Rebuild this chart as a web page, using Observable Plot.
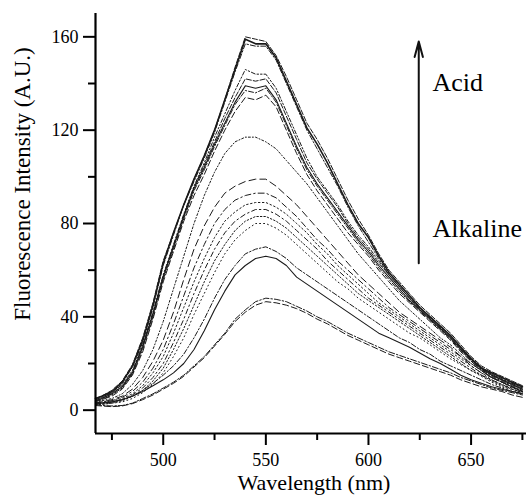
<!DOCTYPE html>
<html>
<head>
<meta charset="utf-8">
<script src="https://cdn.jsdelivr.net/npm/d3@7"></script>
<script src="https://cdn.jsdelivr.net/npm/@observablehq/plot@0.6"></script>
<style>
  html, body { margin: 0; padding: 0; background: #fff; }
  #chart { width: 526px; height: 496px; }
  #chart svg, #chart svg text { font-family: "Liberation Serif", "Times New Roman", Times, Tinos, "DejaVu Serif", "Noto Serif", FreeSerif, serif !important; }
</style>
</head>
<body>
<div id="chart"></div>
<script>
// ---- data ----
const wavelengths = [467,470,475,480,485,490,495,500,505,510,515,520,525,530,535,540,545,550,555,560,565,570,575,580,585,590,595,600,605,610,615,620,625,630,635,640,645,650,655,660,665,670,675];

const c1  = [5,6,8,12,19,30,45,63,76,88,99,109,120,133,146,159,157,157,151,141,131,121,114,106,97,88,80,74,66,59,54,49,44,40,36,32,27,22,18,16,14,12,10];
const c2  = [5,6,8.5,12.5,19.5,31,46,64,76,88,99,109,120,133,147,160,159,158,152,143,133,123,116,108,99,90,82,75,67,60,55,50,45,41,37,33,28,23,19,16.5,14.5,12.5,10.5];
const c3  = [4.5,5.5,7.5,11.5,18.5,29,44,62,75,88,98,108,119,132,145,157,156,156,150,140,130,120,112,104,96,87,79,72,65,58,53,48,43,39,35,31,26,21,17.5,15,13,11.5,9.5];
const c4  = [4.5,5.5,7.5,11,17,28,42,58,71,84,96,106,117,127,137,146,144,144,138,128,118,108,100,94,88,81,75,70,64,58,53,48,44,40,36,32,27,22.5,18.5,15.5,13.5,11.5,9.5];
const c5  = [4,5,7,10.5,16.5,27.5,41.5,57.5,70.5,83.5,95.5,105,115,125,134,142,141,142,136,126,116,106,99,93,87,80,74,69,63,58,53,48,43.5,39.5,35.5,31.5,26.5,22,18,15.5,13,11,9];
const c6  = [4,5,7,10,16,27,41,57,70,83,95,104,114,123,132,139,138,139,133,123,113,104,97,91,85,79,73,68,62,57,52,47,43,39,35,31,26,22,18,15,13,11,9];
const c7  = [4,4.5,6.5,9.5,15.5,26,40,56,69,82,94,103,113,122,131,137,136,138,132,122,112,103,96,90,84,78,72,67,61,56,51,46.5,42.5,38.5,34.5,30.5,25.5,21.5,17.5,14.5,12.5,10.5,8.5];
const c8  = [3.5,4.5,6,9,15,25,39,55,68,81,92,101,111,120,128,134,133,135,130,120,110,101,94,88,82,76,71,66,60,55,50,46,42,38,34,30,25,21,17,14,12,10,8];
const c9  = [3,4,5,7,11,17,26,38,52,66,80,92,102,110,115,117,117,115,112,107,102,97,91,85,79,73,67,62,57,52,47,43,39,35,31,28,24,20,17,14,12,10,8];
const c10 = [3,3.5,4.5,6,9,14,21,30,42,56,69,79,87,93,96,98,99,99,96,92,88,83,78,73,68,63,58,54,50,46,42,39,36,33,30,27,23,20,17,14,12,10,8];
const c11 = [3,3.5,4,5.5,8,12,18,26,37,49,61,71,80,86,90,92,93,93,91,87,83,78,73,69,64,60,56,52,48,44,41,38,35,32,29,26,23,19,16,14,12,10,8];
const c12 = [2.5,3,4,5,7,10.5,16,23,33,44,55,65,74,81,85,88,89,89,87,84,80,76,71,67,62,58,54,50,46,43,40,37,34,31,28,25,22,19,16,13,11,9.5,8];
const c13 = [2.5,3,3.5,4.5,6.5,9.5,14,20,29,39,50,60,69,76,81,84,86,86,84,81,77,73,69,64,60,56,52,48,45,42,39,36,33,30,27,24,21,18,15,13,11,9,7.5];
const c14 = [2.5,2.5,3,4,6,8.5,12.5,18,26,35,45,55,64,71,77,81,83,83,81,78,74,70,66,62,58,54,50,47,44,41,38,35,32,29,26,23,20,17,15,12.5,10.5,9,7.5];
const c15 = [2,2.5,3,3.5,5,7.5,11,16,23,31,41,50,59,67,73,77,80,80,78,75,71,67,63,59,55,52,48,45,42,39,36,33,31,28,25,22,19.5,17,14.5,12,10,8.5,7];
const c16 = [3,3,3.5,4.5,6,8.5,11.5,15,19,24,31,39,48,56,62,67,69,70,68,65,61,58,55,52,49,46,43,40,37,34,31,29,26,24,21,19,17,15,13,11,9.5,8,7];
const c17 = [3,3,3.5,4.5,6,8,10.5,13,16,20,26,34,43,51,58,62,65,66,65,62,57,54,51,48,45,42,39,36,33,31,29,27,24.5,22,20,17.5,15,13,11.5,10,9,8,7];
const c18 = [2.5,2,1.8,2,3,5,7,9.5,12,15,19,23,28,33,39,43,46.5,48,47.5,46.5,44.5,42.5,40,38,35.5,33,31,29,27,25,23.5,22,20.5,19,17.5,16,14,12.5,11,9.5,8.5,7.5,6.5];
const c19 = [2,1.8,1.5,1.8,2.8,4.5,6.5,9,11.5,14.5,18.5,22.5,27.5,32.5,38,42,45,46.5,46,45,43.5,41.5,39,37,34.5,32,30,28,26,24,22.5,21,19.5,18,16.5,15,13,11.5,10,9,8,6.5,5.5];

const seriesValues = [c1,c2,c3,c4,c5,c6,c7,c8,c9,c10,c11,c12,c13,c14,c15,c16,c17,c18,c19];

// axis ticks / domains
const xDomain = [467, 677];
const yDomain = [-10, 170];
const xMajorTicks = [500, 550, 600, 650];
const xMinorTicks = [475, 525, 575, 625, 675];
const yMajorTicks = [0, 40, 80, 120, 160];
const yMinorTicks = [20, 60, 100, 140];

// annotation
const arrowData = [{x: 624.5, from: 63, to: 158}];
const labelData = [{x: 631.2, y: 140.2, text: "Acid"}, {x: 631.2, y: 77.6, text: "Alkaline"}];

// ---- styles (kept separate from data) ----
const dashStyles = [
  null, "5,2", "5,2,1.5,2", "4,2,1.5,2,1.5,2", "5,2", null, "5,2,1.5,2", "6,3",
  "2,2,1,2", "7,4", "6,3,1.5,3", "1.5,2.5", "5,3,1.5,3", "1.5,2", "1,3",
  "5,2,1.5,2", null, "6,2,1.5,2", "6,3"
];
const widths = [1.6,1,1,1,1,1.1,1,1,1,1,1,1,1,1,1,1,1.1,1,1];

const FONT = "'Liberation Serif', 'Times New Roman', Times, serif";

const lineMarks = seriesValues.map((vals, k) => {
  const rows = wavelengths.map((w, i) => ({w, v: vals[i]}));
  return Plot.line(rows, {
    x: "w", y: "v",
    stroke: "#1a1a1a",
    strokeWidth: widths[k],
    strokeDasharray: dashStyles[k] || undefined
  });
});

const chart = Plot.plot({
  width: 526,
  height: 496,
  marginLeft: 95,
  marginRight: 0,
  marginTop: 13,
  marginBottom: 63,
  style: {fontFamily: FONT, background: "#fff", color: "#000"},
  x: {domain: xDomain, axis: null},
  y: {domain: yDomain, axis: null},
  marks: [
    ...lineMarks,
    Plot.axisX(xMajorTicks, {tickSize: 12, tickPadding: 8, strokeWidth: 2, fontSize: 18, label: null, tickFormat: d => String(d)}),
    Plot.axisX(xMinorTicks, {tickSize: 7, strokeWidth: 2, label: null, tickFormat: () => ""}),
    Plot.axisY(yMajorTicks, {tickSize: 12, tickPadding: 5, strokeWidth: 2, fontSize: 18, label: null, tickFormat: d => String(d)}),
    Plot.axisY(yMinorTicks, {tickSize: 7, strokeWidth: 2, label: null, tickFormat: () => ""}),
    Plot.ruleX([xDomain[0]], {strokeWidth: 2.2, stroke: "#000"}),
    Plot.ruleY([yDomain[0]], {strokeWidth: 2.2, stroke: "#000"}),
    Plot.arrow(arrowData, {x1: "x", x2: "x", y1: "from", y2: "to", stroke: "#111", strokeWidth: 2, headLength: 12, headAngle: 30}),
    Plot.text(labelData, {x: "x", y: "y", text: "text", textAnchor: "start", lineAnchor: "middle", fontSize: 26, fill: "#000"})
  ]
});

document.getElementById("chart").appendChild(chart);

const svg = d3.select(chart);
svg.append("text")
  .attr("transform", "translate(30,184) rotate(-90)")
  .attr("text-anchor", "middle")
  .attr("font-size", 23)
  .attr("fill", "#000")
  .text("Fluorescence Intensity (A.U.)");
svg.append("text")
  .attr("x", 314)
  .attr("y", 490)
  .attr("text-anchor", "middle")
  .attr("font-size", 22)
  .attr("fill", "#000")
  .text("Wavelength (nm)");
</script>
</body>
</html>
